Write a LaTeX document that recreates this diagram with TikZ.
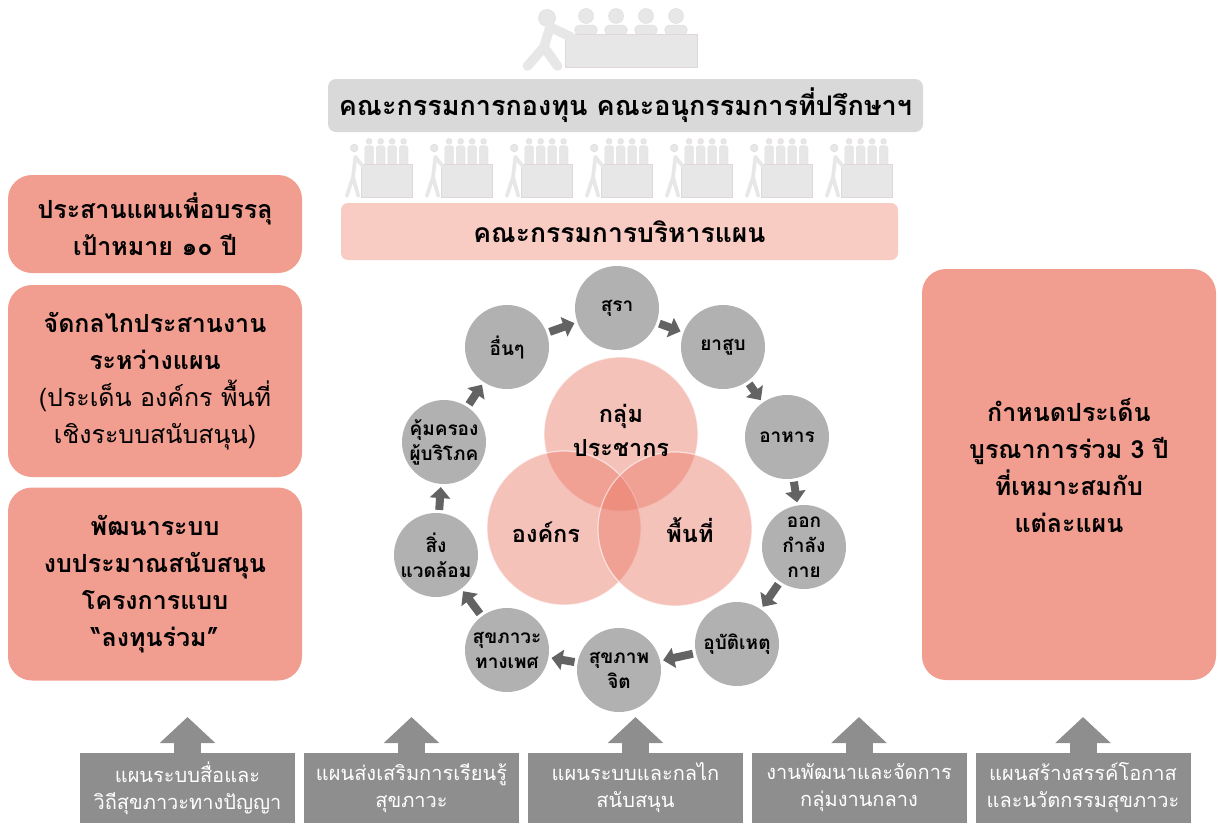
\documentclass[tikz,border=0pt]{standalone}
\usepackage{fontspec}
\setmainfont{Loma}[Script=Thai]
\usetikzlibrary{arrows.meta}
\definecolor{salmon}{HTML}{F19E90}
\definecolor{blush}{HTML}{F8CBC3}
\definecolor{boardgray}{HTML}{D9D9D9}
\definecolor{topicgray}{HTML}{B1B1B1}
\definecolor{flowgray}{HTML}{636363}
\definecolor{plangray}{HTML}{8E8E8E}
\definecolor{vennred}{HTML}{E97866}
\definecolor{iconfill}{HTML}{E7E7E7}
\definecolor{iconline}{HTML}{E0D8D8}

% people around a table, #1 = seat spacing
\tikzset{
  meeting/.pic={
    % seated people
    \foreach \i in {0,...,3} {
      \fill[iconfill, draw=iconline, line width=0.4pt] (2.1*#1+\i*#1, #1/4+1.5) circle[radius=#1/4];
      \fill[iconfill, draw=iconline, line width=0.4pt, rounded corners=#1/6]
        (1.72*#1+\i*#1, #1/2+3) rectangle (2.48*#1+\i*#1, 28);
    }
    % table
    \fill[iconfill, draw=iconline, line width=0.4pt] (1.4*#1, 27) rectangle (5.8*#1, 60);
    % standing person
    \fill[iconfill, draw=iconline, line width=0.4pt] (0.8*#1, 11) circle[radius=#1/4+1];
    \draw[iconfill, line width=0.32*#1, line cap=round, line join=round]
      (1.6*#1, 30) -- (0.9*#1, 20) -- (0.7*#1, 40) -- (0.15*#1, 59)
      (0.7*#1, 40) -- (1.15*#1, 59);
  }
}

\begin{document}
\begin{tikzpicture}[
    x=1pt, y=-1pt,
    % Node styles
    board/.style={fill=boardgray, rounded corners=8pt, minimum width=595pt, minimum height=53pt, font=\fontsize{27}{32}\selectfont\bfseries},
    mgmt/.style={fill=blush, rounded corners=7pt, minimum width=557pt, minimum height=57pt, font=\fontsize{26.5}{32}\selectfont\bfseries},
    task/.style={fill=salmon, rounded corners=24pt, minimum width=294pt, align=center, font=\fontsize{25}{37}\selectfont\bfseries},
    tasktext/.style={align=center, font=\fontsize{25}{37}\selectfont\bfseries},
    topic/.style={circle, fill=topicgray, minimum size=84pt, inner sep=0pt, label={[topiclabel]center:#1}},
    topiclabel/.style={align=center, font=\fontsize{19}{25}\selectfont\bfseries},
    venn/.style={circle, minimum size=154pt, fill=vennred, fill opacity=0.45, draw=white, draw opacity=0.6, line width=1.2pt},
    venntext/.style={align=center, font=\fontsize{23.5}{34}\selectfont\bfseries},
    plan/.style={fill=plangray, text=white, minimum width=215pt, minimum height=70pt, align=center, font=\fontsize{20}{27}\selectfont},
    % Edge styles
    flow/.style={draw=flowgray, line width=8pt, -{Triangle[length=11pt,width=20pt]}, shorten <=3pt, shorten >=3pt},
    planarrow/.style={draw=plangray, line width=27pt, -{Triangle[length=26pt,width=54pt]}}
]
\useasboundingbox (0,0) rectangle (1218,827);

% Committees
\pic at (523,7) {meeting=30};
\node[board] (fund) at (625.5,105.5) {คณะกรรมการกองทุน คณะอนุกรรมการที่ปรึกษาฯ};
\foreach \k in {0,...,6}
  \pic at (345+80*\k,137) {meeting=11.5};
\node[mgmt] (mgmt) at (619.5,231.5) {คณะกรรมการบริหารแผน};

% Left column
\node[task, minimum height=98pt] (goal) at (155,224) {ประสานแผนเพื่อบรรลุ\\เป้าหมาย ๑๐ ปี};
\node[task, minimum height=192pt] (link) at (155,381) {จัดกลไกประสานงาน\\ระหว่างแผน\\\mdseries(ประเด็น องค์กร พื้นที่\\\mdseries เชิงระบบสนับสนุน)};
\node[task, minimum height=193pt] (budget) at (155,584) {พัฒนาระบบ\\งบประมาณสนับสนุน\\โครงการแบบ\\“ลงทุนร่วม”};

% Right column
\node[task, minimum height=411pt] (issue) at (1069,474.5) {};
\node[tasktext] (issueT) at (1069,465) {กำหนดประเด็น\\บูรณาการร่วม 3 ปี\\ที่เหมาะสมกับ\\แต่ละแผน};

% Target groups
\node[venn] (people) at (621,434) {};
\node[venn] (org) at (564,528) {};
\node[venn] (area) at (675,529) {};
\node[venntext] (peopleT) at (621,430) {กลุ่ม\\ประชากร};
\node[venntext] (orgT) at (546,532) {องค์กร};
\node[venntext] (areaT) at (690,530) {พื้นที่};

% Issue ring
\node[topic={สุรา}] (alcohol) at (617,308) {};
\node[topic={ยาสูบ}] (tobacco) at (723,347) {};
\node[topic={อาหาร}] (food) at (787,437) {};
\node[topic={ออก\\กำลัง\\กาย}] (exercise) at (804,547) {};
\node[topic={อุบัติเหตุ}] (accident) at (737,644) {};
\node[topic={สุขภาพ\\จิต}] (mental) at (619,670) {};
\node[topic={สุขภาวะ\\ทางเพศ}] (sexual) at (507,650) {};
\node[topic={สิ่ง\\แวดล้อม}] (envir) at (436,555) {};
\node[topic={คุ้มครอง\\ผู้บริโภค}] (consumer) at (444,442) {};
\node[topic={อื่นๆ}] (other) at (507,347) {};

\draw[flow] (other) -- (alcohol);
\draw[flow] (alcohol) -- (tobacco);
\draw[flow] (tobacco) -- (food);
\draw[flow] (food) -- (exercise);
\draw[flow] (exercise) -- (accident);
\draw[flow] (accident) -- (mental);
\draw[flow] (mental) -- (sexual);
\draw[flow] (sexual) -- (envir);
\draw[flow] (envir) -- (consumer);
\draw[flow] (consumer) -- (other);

% Plans
\node[plan] (media) at (187.5,788) {แผนระบบสื่อและ\\วิถีสุขภาวะทางปัญญา};
\node[plan] (learn) at (411.5,788) {แผนส่งเสริมการเรียนรู้\\สุขภาวะ};
\node[plan] (support) at (635.5,788) {แผนระบบและกลไก\\สนับสนุน};
\node[plan] (central) at (859,788) {งานพัฒนาและจัดการ\\กลุ่มงานกลาง};
\node[plan] (innov) at (1083,788) {แผนสร้างสรรค์โอกาส\\และนวัตกรรมสุขภาวะ};

\coordinate (mediaUp) at (187.5,717);
\coordinate (learnUp) at (411.5,717);
\coordinate (supportUp) at (635.5,717);
\coordinate (centralUp) at (859,717);
\coordinate (innovUp) at (1083,717);

\draw[planarrow] (media) -- (mediaUp);
\draw[planarrow] (learn) -- (learnUp);
\draw[planarrow] (support) -- (supportUp);
\draw[planarrow] (central) -- (centralUp);
\draw[planarrow] (innov) -- (innovUp);

\end{tikzpicture}
\end{document}
